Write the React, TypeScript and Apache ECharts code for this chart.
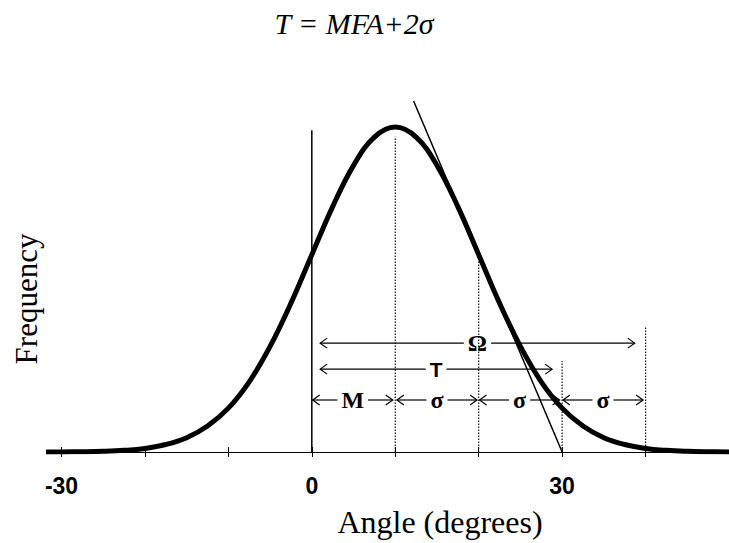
import React, { useEffect, useRef } from "react";
import * as echarts from "echarts";

// Normal-shaped frequency curve (peak = 100 at 10°)
const curveX = [-32, -30, -27.5, -25, -22.5, -20, -17.5, -15, -12.5, -10, -7.5, -5, -2.5, 0, 2.5, 5, 7.5, 10, 12.5, 15, 17.5, 20, 22.5, 25, 27.5, 30, 32.5, 35, 37.5, 40, 42.5, 45, 47.5, 50];
const curveY = [0.01, 0.03, 0.09, 0.22, 0.51, 1.1, 2.3, 4.4, 8.0, 13.5, 21.6, 32.5, 45.8, 60.7, 75.5, 88.2, 96.9, 100, 96.9, 88.2, 75.5, 60.7, 45.8, 32.5, 21.6, 13.5, 8.0, 4.4, 2.3, 1.1, 0.51, 0.22, 0.09, 0.03];

// Tangent at the inflection point
const tangentX = [12.2, 30];
const tangentY = [108, 0];

// Vertical guides
const guideX = [0, 10, 20, 30, 40];
const guideTop = [99, 97, 59, 28, 38.8];

// Span annotations
const spanLabels = ["Ω", "T", "M", "σ", "σ", "σ"];
const spanFrom = [1, 1, 0.1, 10.2, 20.1, 30.1];
const spanTo = [38.7, 28.8, 9.7, 19.8, 29.7, 39.7];
const spanLevel = [33.5, 25.5, 16, 16, 16, 16];

const tickValues = [-30, -20, -10, 0, 10, 20, 30, 40];
const tickLabelValues = [-30, 0, 30];

const titleText = "T = MFA+2σ";
const xName = "Angle (degrees)";
const yName = "Frequency";

let measureCtx: CanvasRenderingContext2D | null = null;
function measure(text: string, font: string): number {
  if (!measureCtx) {
    const c = document.createElement("canvas");
    measureCtx = c.getContext("2d");
  }
  if (!measureCtx) return text.length * 12;
  measureCtx.font = font;
  return measureCtx.measureText(text).width;
}

export default function App() {
  const ref = useRef<HTMLDivElement>(null);
  useEffect(() => {
    document.body.style.margin = "0";
    if (!ref.current) return;
    const chart = echarts.init(ref.current, null, { renderer: "svg" });
    const curveData = curveX.map((x, i) => [x, curveY[i]]);
    const tangentData = tangentX.map((x, i) => [x, tangentY[i]]);
    const guideData = guideX.map((x, i) => [x, guideTop[i]]);
    const spanData = spanFrom.map((f, i) => [f, spanTo[i], spanLevel[i]]);

    const option: any = {
      animation: false,
      backgroundColor: "#fff",
      grid: { left: 49, right: 0, top: 94.5, bottom: 91 },
      xAxis: [
        {
          type: "value",
          min: -31.5,
          max: 50,
          position: "bottom",
          splitLine: { show: false },
          axisLine: { show: true, lineStyle: { color: "#000", width: 1 } },
          axisTick: { show: true, length: 5, customValues: tickValues, lineStyle: { color: "#000", width: 1 } },
          axisLabel: {
            customValues: tickLabelValues,
            margin: 22,
            color: "#000",
            fontFamily: "Liberation Sans",
            fontWeight: "bold",
            fontSize: 23,
          },
        },
        {
          type: "value",
          min: -31.5,
          max: 50,
          position: "bottom",
          splitLine: { show: false },
          axisLine: { show: false },
          axisTick: { show: true, inside: true, length: 5, customValues: tickValues, lineStyle: { color: "#000", width: 1 } },
          axisLabel: { show: false },
        },
      ],
      yAxis: { type: "value", min: 0, max: 110, show: false },
      graphic: [
        {
          type: "text",
          x: 354,
          y: 23,
          style: {
            text: titleText,
            fontStyle: "italic",
            fontSize: 30,
            fontFamily: "Liberation Serif",
            textAlign: "center",
            textVerticalAlign: "middle",
            fill: "#000",
          },
        },
        {
          type: "text",
          x: 440,
          y: 522,
          style: {
            text: xName,
            fontSize: 32,
            fontFamily: "Liberation Serif",
            textAlign: "center",
            textVerticalAlign: "middle",
            fill: "#000",
          },
        },
        {
          type: "text",
          x: 26,
          y: 299,
          rotation: Math.PI / 2,
          style: {
            text: yName,
            fontSize: 31,
            fontFamily: "Liberation Serif",
            textAlign: "center",
            textVerticalAlign: "middle",
            fill: "#000",
          },
        },
      ],
      series: [
        {
          type: "custom",
          name: "guides",
          data: guideData,
          z: 1,
          renderItem: (params: any, api: any) => {
            const i = params.dataIndex;
            const p0 = api.coord([api.value(0), 0]);
            const p1 = api.coord([api.value(0), api.value(1)]);
            const solid = i === 0;
            return {
              type: "line",
              shape: { x1: p0[0], y1: p0[1], x2: p1[0], y2: p1[1] },
              style: solid
                ? { stroke: "#000", lineWidth: 1.5 }
                : { stroke: "#111", lineWidth: 1.2, lineDash: [1.5, 1.5] },
            };
          },
        },
        {
          type: "line",
          name: "tangent",
          data: tangentData,
          symbol: "none",
          z: 2,
          lineStyle: { color: "#000", width: 1.5 },
        },
        {
          type: "line",
          name: "curve",
          data: curveData,
          symbol: "none",
          smooth: 0.4,
          z: 3,
          lineStyle: { color: "#000", width: 5 },
        },
        {
          type: "custom",
          name: "spans",
          data: spanData,
          z: 4,
          renderItem: (params: any, api: any) => {
            const i = params.dataIndex;
            const a = api.coord([api.value(0), api.value(2)]);
            const b = api.coord([api.value(1), api.value(2)]);
            const label = spanLabels[i];
            const isT = label === "T";
            const family = isT ? "Liberation Sans" : "Liberation Serif";
            const size = isT ? 21 : 24;
            const w = measure(label, `bold ${size}px '${family}'`);
            const mid = (a[0] + b[0]) / 2;
            const gap = 4;
            const y = a[1];
            const st = { stroke: "#000", lineWidth: 1.2, fill: null };
            return {
              type: "group",
              children: [
                { type: "line", shape: { x1: a[0], y1: y, x2: mid - w / 2 - gap, y2: y }, style: st },
                { type: "line", shape: { x1: mid + w / 2 + gap, y1: y, x2: b[0], y2: y }, style: st },
                { type: "polyline", shape: { points: [[a[0] + 7, y - 5], [a[0], y], [a[0] + 7, y + 5]] }, style: st },
                { type: "polyline", shape: { points: [[b[0] - 7, y - 5], [b[0], y], [b[0] - 7, y + 5]] }, style: st },
                {
                  type: "text",
                  x: mid,
                  y: y,
                  style: {
                    text: label,
                    fontSize: size,
                    fontWeight: "bold",
                    fontFamily: family,
                    textAlign: "center",
                    textVerticalAlign: "middle",
                    fill: "#000",
                  },
                },
              ],
            };
          },
        },
      ],
    };
    chart.setOption(option);
    return () => chart.dispose();
  }, []);
  return <div ref={ref} style={{ width: 729, height: 543 }} />;
}
